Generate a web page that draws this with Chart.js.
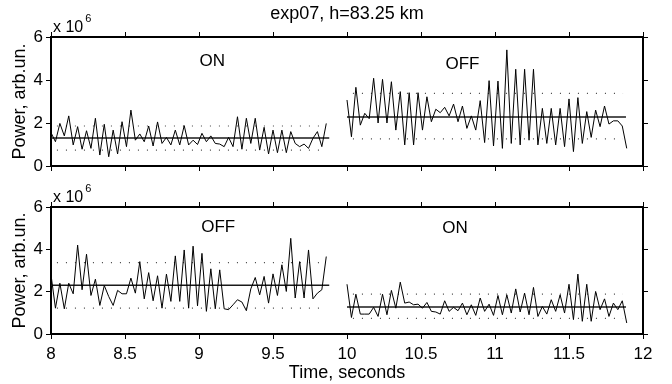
<!DOCTYPE html>
<html><head><meta charset="utf-8">
<script src="https://cdn.jsdelivr.net/npm/chart.js@4.4.1/dist/chart.umd.min.js"></script>
<style>
html,body{margin:0;padding:0;background:#fff;width:672px;height:384px;overflow:hidden}
canvas{position:absolute;left:0}
#c1{top:0}
#c2{top:180px}
</style></head><body>
<canvas id="c1" width="672" height="190"></canvas>
<canvas id="c2" width="672" height="204"></canvas>
<script>
const titleText = 'exp07, h=83.25 km';
const xTitle = 'Time, seconds';
const yTitle = 'Power, arb.un.';
const xTickLabels = ['8','8.5','9','9.5','10','10.5','11','11.5','12'];
const yTickLabels = ['0','2','4','6'];
const sampleStep = 0.03;

// top panel: ON (8-10 s), OFF (10-12 s), values in units of 1e6
const topOn = [1.55,1.13,1.98,1.4,2.33,0.98,1.83,0.78,1.64,0.82,2.22,0.51,1.94,0.43,1.67,0.56,2.06,0.9,2.6,1.2,1.49,1.13,1.86,0.93,2.05,1.05,1.33,0.98,1.67,0.98,1.88,0.98,1.2,1.0,1.52,1.13,1.4,1.05,1.02,0.9,1.33,0.9,2.29,0.78,2.22,1.05,2.22,0.74,1.8,0.56,1.67,0.62,1.67,0.62,1.6,1.05,0.9,1.02,0.82,1.29,1.6,0.9,1.98];
const topOff = [3.07,1.36,3.66,1.9,2.45,2.2,4.08,2.0,4.03,2.0,3.92,1.67,3.46,0.98,3.41,0.98,3.41,1.67,3.22,2.06,2.64,2.48,2.73,2.33,2.88,2.06,2.79,1.75,2.33,1.67,3.04,1.09,3.97,0.93,3.95,0.82,5.4,1.05,4.5,0.98,4.5,1.2,4.5,0.98,2.68,1.05,2.68,0.98,2.68,0.9,3.12,0.67,3.18,1.05,2.53,1.33,2.6,1.83,2.79,1.95,2.1,2.1,1.86,0.82];
// bottom panel: OFF (8-10 s), ON (10-12 s)
const bottomOff = [2.8,1.22,2.4,1.19,2.4,1.9,4.2,2.09,3.77,1.82,2.59,1.35,2.29,1.77,1.35,2.06,1.9,1.9,2.64,1.93,3.42,1.66,2.9,1.57,2.75,1.22,2.83,1.54,3.69,1.54,3.97,1.22,4.15,1.33,3.81,1.07,3.08,1.19,3.03,1.19,1.15,1.38,1.62,1.51,1.1,2.13,2.67,1.85,2.72,1.46,2.84,1.82,3.27,2.01,4.52,1.7,3.42,1.7,3.97,1.66,1.93,2.09,3.66];
const bottomOn = [2.35,0.78,1.88,0.94,0.94,0.94,1.26,0.83,1.88,0.91,2.06,1.22,2.45,1.46,1.51,1.38,1.41,1.22,1.49,1.07,1.04,0.94,1.57,1.07,1.26,1.1,1.46,0.91,1.38,0.88,1.7,1.07,1.41,0.88,1.82,0.91,1.85,0.99,2.13,1.04,1.93,0.91,2.2,0.83,1.3,0.94,1.62,1.07,1.85,0.99,2.35,0.68,2.83,0.6,2.35,0.6,2.01,1.15,1.66,0.83,1.46,1.15,1.57,0.52];

// segment start/end times
const segStart = [8, 10];
const segEnd = [9.88, 11.885];
// mean level and dotted (spread) levels: [mean, upper, lower]
const topOnLevels = [1.3, 1.86, 0.74];
const topOffLevels = [2.28, 3.38, 1.26];
const bottomOffLevels = [2.3, 3.37, 1.22];
const bottomOnLevels = [1.27, 1.88, 0.74];
// state labels
const topLabels = ['ON', 'OFF'];
const topLabelPos = [[9.09, 4.86], [10.78, 4.72]];
const bottomLabels = ['OFF', 'ON'];
const bottomLabelPos = [[9.13, 5.03], [10.73, 5.0]];

const FONT = "'Liberation Sans', Arial, Helvetica, sans-serif";

function seriesDatasets(values, start, end, levels) {
  const pts = values.map((v, i) => ({x: start + i * sampleStep, y: v}));
  return [
    {data: pts, borderColor: '#000', borderWidth: 1, pointRadius: 0, tension: 0},
    {data: [{x: start, y: levels[0]}, {x: end, y: levels[0]}], borderColor: '#1a1a1a', borderWidth: 1.5, pointRadius: 0},
    {data: [{x: start + 0.04, y: levels[1]}, {x: end - 0.02, y: levels[1]}], borderColor: '#444', borderWidth: 1.2, borderDash: [1, 8], pointRadius: 0},
    {data: [{x: start + 0.04, y: levels[2]}, {x: end - 0.02, y: levels[2]}], borderColor: '#444', borderWidth: 1.2, borderDash: [1, 8], pointRadius: 0}
  ];
}

function axisCommon() {
  return {
    grid: {drawOnChartArea: false, drawTicks: true, tickLength: 5, color: '#000', lineWidth: 1},
    border: {display: true, color: '#000', width: 2}
  };
}

function makePanel(canvasId, datasets, opts) {
  const textPlugin = {
    id: 'texts' + canvasId,
    afterDraw(chart) {
      const ctx = chart.ctx;
      const a = chart.chartArea;
      const xs = chart.scales.x, ys = chart.scales.y;
      ctx.save();
      ctx.fillStyle = '#000';
      // x 10^6
      ctx.textAlign = 'left';
      ctx.textBaseline = 'alphabetic';
      ctx.font = '16px ' + FONT;
      ctx.fillText('x 10', a.left + 2, a.top - 5);
      const w = ctx.measureText('x 10').width;
      ctx.font = '11px ' + FONT;
      ctx.fillText('6', a.left + 2 + w + 2, a.top - 15);
      // state labels
      ctx.font = '17px ' + FONT;
      ctx.textAlign = 'center';
      ctx.textBaseline = 'middle';
      opts.labels.forEach((t, i) => {
        ctx.fillText(t, xs.getPixelForValue(opts.labelPos[i][0]), ys.getPixelForValue(opts.labelPos[i][1]));
      });
      if (opts.title) {
        ctx.font = '18px ' + FONT;
        ctx.textBaseline = 'alphabetic';
        ctx.fillText(opts.title, (a.left + a.right) / 2, 19);
      }
      ctx.restore();
    }
  };
  const xb = axisCommon();
  const xt = axisCommon();
  const yl = axisCommon();
  const yr = axisCommon();
  return new Chart(document.getElementById(canvasId), {
    type: 'line',
    data: {datasets},
    options: {
      responsive: false,
      animation: false,
      events: [],
      layout: {padding: 0},
      plugins: {legend: {display: false}, tooltip: {enabled: false}},
      scales: {
        x: Object.assign(xb, {
          type: 'linear', position: 'bottom', min: 8, max: 12,
          ticks: {stepSize: 0.5, display: opts.showX, color: '#000', padding: 5,
            font: {family: FONT, size: 17},
            callback: (v) => xTickLabels[Math.round((v - 8) / 0.5)]},
          title: {display: opts.showX, text: xTitle, color: '#000', font: {family: FONT, size: 18}, padding: {top: 0, bottom: 0}},
          afterFit: (s) => { s.height = opts.bottomH; }
        }),
        x2: Object.assign(xt, {
          type: 'linear', position: 'top', min: 8, max: 12,
          ticks: {stepSize: 0.5, display: false},
          afterFit: (s) => { s.height = opts.topH; }
        }),
        y: Object.assign(yl, {
          type: 'linear', position: 'left', min: 0, max: 6,
          ticks: {stepSize: 2, color: '#000', padding: 3, font: {family: FONT, size: 17},
            callback: (v) => yTickLabels[Math.round(v / 2)]},
          title: {display: true, text: yTitle, color: '#000', font: {family: FONT, size: 18}, padding: {top: 9, bottom: 0}},
          afterFit: (s) => { s.width = 51; }
        }),
        y2: Object.assign(yr, {
          type: 'linear', position: 'right', min: 0, max: 6,
          ticks: {stepSize: 2, display: false},
          afterFit: (s) => { s.width = 29; }
        })
      }
    },
    plugins: [textPlugin]
  });
}

makePanel('c1', [
  ...seriesDatasets(topOn, segStart[0], segEnd[0], topOnLevels),
  ...seriesDatasets(topOff, segStart[1], segEnd[1], topOffLevels)
], {showX: false, topH: 37, bottomH: 24, labels: topLabels, labelPos: topLabelPos, title: titleText});

makePanel('c2', [
  ...seriesDatasets(bottomOff, segStart[0], segEnd[0], bottomOffLevels),
  ...seriesDatasets(bottomOn, segStart[1], segEnd[1], bottomOnLevels)
], {showX: true, topH: 27, bottomH: 50, labels: bottomLabels, labelPos: bottomLabelPos, title: null});
</script>
</body></html>
